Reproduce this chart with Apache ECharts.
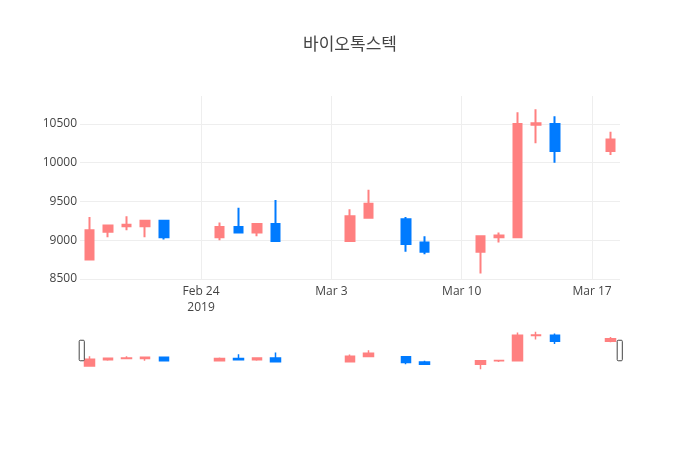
<!DOCTYPE html>
<html><head><meta charset="utf-8">
<script src="https://cdn.jsdelivr.net/npm/echarts@6/dist/echarts.min.js"></script>
<style>html,body{margin:0;padding:0;background:#fff}#c{width:700px;height:450px}</style>
</head><body><div id="c"></div>
<script>
const dates = ['2019-02-18','2019-02-19','2019-02-20','2019-02-21','2019-02-22','2019-02-25','2019-02-26','2019-02-27','2019-02-28','2019-03-04','2019-03-05','2019-03-07','2019-03-08','2019-03-11','2019-03-12','2019-03-13','2019-03-14','2019-03-15','2019-03-18'];
const openV  = [8750,9110,9180,9180,9250,9040,9170,9100,9210,8990,9290,9270,8970,8850,9040,9040,10490,10500,10150];
const closeV = [9130,9190,9200,9250,9040,9170,9100,9210,8990,9310,9470,8950,8850,9050,9060,10500,10510,10150,10300];
const lowV   = [8750,9040,9130,9040,9010,9000,9100,9050,8990,8990,9290,8850,8820,8570,8970,9040,10250,10000,10100];
const highV  = [9300,9190,9310,9250,9250,9230,9420,9210,9520,9400,9650,9300,9050,9050,9100,10650,10690,10600,10400];
const tickDates  = ['2019-02-24','2019-03-03','2019-03-10','2019-03-17'];
const tickLabels = ['Feb 24\n2019','Mar 3','Mar 10','Mar 17'];
const title = '바이오톡스텍';

function t(s){const p=s.split('-');return new Date(+p[0],+p[1]-1,+p[2]).getTime();}
const HALF = 12*3600*1000;
const xMin = t(dates[0]) - HALF, xMax = t(dates[dates.length-1]) + HALF;
const tickVals = tickDates.map(t);
const data = dates.map((d,i)=>[t(d), openV[i], closeV[i], lowV[i], highV[i]]);
const UP = '#ff8080', DOWN = '#007bff';
const FONT = '"Open Sans", verdana, arial, sans-serif';

const chart = echarts.init(document.getElementById('c'));
chart.setOption({
  animation: false,
  backgroundColor: '#fff',
  title: { text: title, left: 'center', top: 32,
    textStyle: { fontSize: 17, color: '#444', fontWeight: 'normal', fontFamily: '"Open Sans","Noto Sans CJK KR",sans-serif' } },
  grid: [
    { left: 80, right: 80, top: 96, height: 183 },
    { left: 80, right: 80, top: 330, height: 41 }
  ],
  xAxis: [
    { type: 'value', gridIndex: 0, min: xMin, max: xMax,
      axisLine: { show: false },
      axisTick: { show: false, customValues: tickVals },
      axisLabel: { customValues: tickVals, color: '#444', fontSize: 12, fontFamily: FONT, lineHeight: 16, margin: 5,
        formatter: v => { const i = tickVals.indexOf(v); return i >= 0 ? tickLabels[i] : ''; } },
      splitLine: { show: true, lineStyle: { color: '#eee', width: 1 } } },
    { type: 'value', gridIndex: 1, min: xMin, max: xMax, show: false,
      splitLine: { show: false } }
  ],
  yAxis: [
    { type: 'value', gridIndex: 0, min: 8500, max: 10860, interval: 500,
      axisLine: { show: false }, axisTick: { show: false },
      axisLabel: { color: '#444', fontSize: 12, fontFamily: FONT, margin: 3, showMaxLabel: false,
        formatter: v => String(v) },
      splitLine: { show: true, showMaxLine: false, lineStyle: { color: '#eee', width: 1 } } },
    { type: 'value', gridIndex: 1, min: 8464, max: 10796, show: false, splitLine: { show: false } }
  ],
  dataZoom: [{
    type: 'slider', xAxisIndex: [1], filterMode: 'none', start: 0, end: 100,
    left: 80, right: 80, top: 330, height: 41,
    showDetail: false, showDataShadow: false, brushSelect: false,
    backgroundColor: 'rgba(0,0,0,0)', borderColor: 'rgba(0,0,0,0)', fillerColor: 'rgba(0,0,0,0)',
    handleIcon: 'path://M1,0 h3 a1,1 0 0 1 1,1 v18 a1,1 0 0 1 -1,1 h-3 a1,1 0 0 1 -1,-1 v-18 a1,1 0 0 1 1,-1 z',
    handleSize: '50%',
    handleStyle: { color: '#fff', borderColor: '#444', borderWidth: 1 },
    moveHandleSize: 0, moveHandleStyle: { opacity: 0 },
    dataBackground: { lineStyle: { opacity: 0 }, areaStyle: { opacity: 0 } },
    selectedDataBackground: { lineStyle: { opacity: 0 }, areaStyle: { opacity: 0 } },
    emphasis: { handleStyle: { color: '#fff', borderColor: '#444', borderWidth: 1 }, moveHandleStyle: { opacity: 0 } }
  }],
  series: [
    { type: 'candlestick', xAxisIndex: 0, yAxisIndex: 0, data: data, encode: { x: 0, y: [1,2,3,4] },
      barWidth: 9,
      itemStyle: { color: UP, color0: DOWN, borderColor: UP, borderColor0: DOWN, borderWidth: 2 } },
    { type: 'candlestick', xAxisIndex: 1, yAxisIndex: 1, data: data, encode: { x: 0, y: [1,2,3,4] },
      barWidth: 10, silent: true,
      itemStyle: { color: UP, color0: DOWN, borderColor: UP, borderColor0: DOWN, borderWidth: 1.5 } }
  ]
});
</script></body></html>
